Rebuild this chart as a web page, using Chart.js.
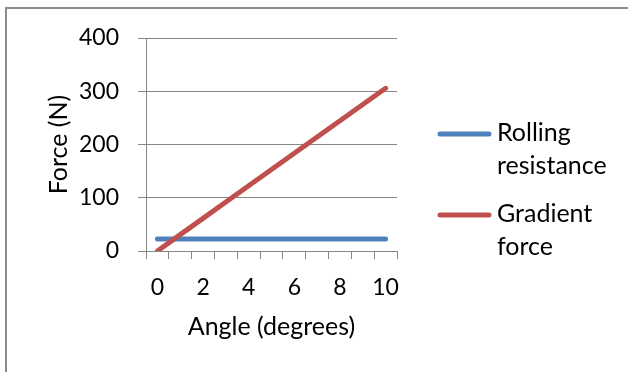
<!DOCTYPE html>
<html>
<head>
<meta charset="utf-8">
<script src="https://cdn.jsdelivr.net/npm/chart.js@4"></script>
<style>
  body { margin: 0; background: #fff; }
  #wrap { position: relative; width: 628px; height: 372px; }
</style>
</head>
<body>
<div id="wrap"><canvas id="myChart"></canvas></div>
<script>
// values
const angles = ["0", "1", "2", "3", "4", "5", "6", "7", "8", "9", "10"];
const rolling = [22.5, 22.5, 22.5, 22.5, 22.5, 22.5, 22.5, 22.5, 22.5, 22.5, 22.5];
const gradient = [0, 30.7, 61.3, 92, 122.6, 153.2, 183.7, 214.2, 244.6, 275, 305.5];
const yTicks = [0, 100, 200, 300, 400];
const seriesNames = [["Rolling", "resistance"], ["Gradient", "force"]];

const FONT = "Lato";
const GRID = "#868686";

const frame = {
  id: "frame",
  beforeDraw(chart) {
    const c = chart.ctx;
    c.save();
    c.fillStyle = "#fff";
    c.fillRect(0, 0, chart.width, chart.height);
    c.strokeStyle = "#8c8c8c";
    c.lineWidth = 2;
    c.strokeRect(6, 8, 700, 500);
    c.restore();
  },
};

// legend on the right, two lines of text per series
const sideLegend = {
  id: "sideLegend",
  afterDraw(chart) {
    const c = chart.ctx;
    const rows = [141, 222];
    c.save();
    c.font = "25px " + FONT;
    c.textBaseline = "alphabetic";
    c.fillStyle = "#000";
    chart.data.datasets.forEach((ds, i) => {
      const y = rows[i];
      c.strokeStyle = ds.borderColor;
      c.lineWidth = 5;
      c.lineCap = "round";
      c.beginPath();
      c.moveTo(440, y - 7);
      c.lineTo(489, y - 7);
      c.stroke();
      seriesNames[i].forEach((t, j) => c.fillText(t, 497, y + j * 33));
    });
    c.restore();
  },
};

const ctx = document.getElementById("myChart");

new Chart(ctx, {
  type: "line",
  data: {
    labels: angles,
    datasets: [
      {
        label: seriesNames[0].join(" "),
        data: rolling,
        borderColor: "#4f81bd",
        borderWidth: 5,
        borderCapStyle: "round",
        pointRadius: 0,
        order: 1,
      },
      {
        label: seriesNames[1].join(" "),
        data: gradient,
        borderColor: "#c0504d",
        borderWidth: 5,
        borderCapStyle: "round",
        pointRadius: 0,
        order: 0,
      },
    ],
  },
  options: {
    responsive: true,
    maintainAspectRatio: false,
    animation: false,
    layout: { padding: { top: 38, right: 231, left: 40, bottom: 20 } },
    plugins: { legend: { display: false }, tooltip: { enabled: false } },
    scales: {
      x: {
        type: "category",
        offset: true,
        afterFit: (s) => { s.height = 101; },
        grid: {
          offset: true,
          drawOnChartArea: false,
          drawTicks: true,
          tickLength: 8,
          color: GRID,
        },
        border: { color: GRID, width: 1 },
        ticks: {
          autoSkip: false,
          maxRotation: 0,
          padding: 15,
          color: "#000",
          font: { family: FONT, size: 23, lineHeight: 1.2 },
          callback: (v, i) => (i % 2 ? "" : angles[i]),
        },
        title: {
          display: true,
          text: "Angle (degrees)",
          color: "#000",
          padding: { top: 0, bottom: 10 },
          font: { family: FONT, size: 25, lineHeight: 1.2 },
        },
      },
      y: {
        min: yTicks[0],
        max: yTicks[yTicks.length - 1],
        afterFit: (s) => { s.width = 106; },
        grid: { color: GRID, lineWidth: 1, tickLength: 8 },
        border: { color: GRID, width: 1 },
        ticks: {
          stepSize: yTicks[1] - yTicks[0],
          padding: 19,
          color: "#000",
          font: { family: FONT, size: 23, lineHeight: 1.2 },
        },
        title: {
          display: true,
          text: "Force (N)",
          color: "#000",
          padding: { top: 4, bottom: 0 },
          font: { family: FONT, size: 25, lineHeight: 1.2 },
        },
      },
    },
  },
  plugins: [frame, sideLegend],
});
</script>
</body>
</html>
